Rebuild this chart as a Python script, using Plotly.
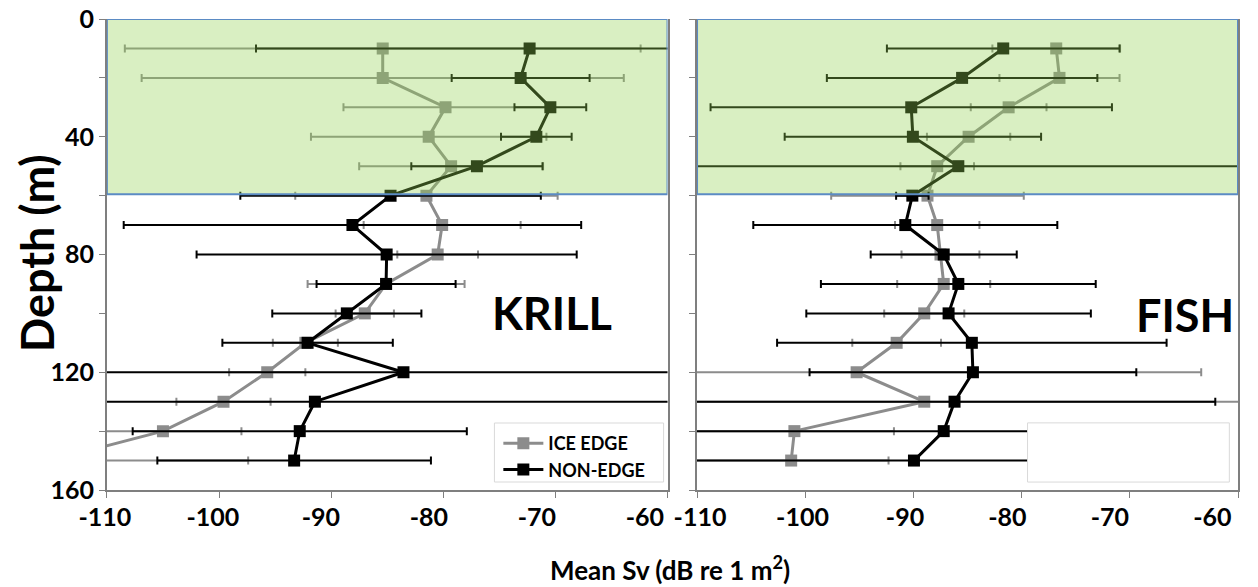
import plotly.graph_objects as go

depths = [10, 20, 30, 40, 50, 60, 70, 80, 90, 100, 110, 120, 130, 140, 150]

krill_ice = [-85.4, -85.4, -79.8, -81.3, -79.3, -81.5, -80.1, -80.5, -85.1, -87.0, -92.3, -95.7, -99.6, -105.0, -115.1]
krill_ice_err = [23.0, 21.5, 9.1, 10.5, 8.2, 11.7, 7.0, 3.6, 7.0, 2.6, 2.9, 3.4, 4.2, 7.0, 17.7]
krill_non = [-72.3, -73.1, -70.45, -71.7, -77.0, -84.7, -88.1, -85.05, -85.1, -88.6, -92.1, -83.55, -91.45, -92.8, -93.3]
krill_non_err = [24.4, 6.15, 3.2, 3.15, 5.85, 13.4, 20.4, 16.95, 6.2, 6.65, 7.6, 40.0, 40.0, 14.9, 12.2]

fish_ice = [-76.8, -76.5, -81.2, -84.9, -87.8, -88.7, -87.8, -87.5, -87.2, -89.0, -91.55, -95.25, -89.0, -101.0, -101.3]
fish_ice_err = [5.9, 5.55, 3.5, 3.85, 3.4, 8.9, 3.9, 3.6, 4.3, 3.7, 4.1, 31.85, 35.0, 9.2, 9.0]
fish_non = [-81.7, -85.5, -90.2, -90.05, -85.85, -90.1, -90.75, -87.2, -85.85, -86.75, -84.6, -84.5, -86.2, -87.2, -89.95]
fish_non_err = [10.75, 12.5, 18.55, 11.85, 40.0, 1.5, 14.05, 6.75, 12.7, 13.15, 18.0, 15.1, 24.1, 25.0, 25.0]

x_ticks = [-110, -100, -90, -80, -70, -60]
x_tick_text = ["-110", "-100", "-90", "-80", "-70", "-60"]
y_ticks = [0, 40, 80, 120, 160]
series_names = ["ICE EDGE", "NON-EDGE"]
panel_labels = ["KRILL", "FISH"]

GRAY = "#8c8c8c"
BLACK = "#000000"
AXIS = "#7f7f7f"
FONT = "Lato"

# page geometry (body margin removed, figure fills the window)
W_FIG, H_FIG = 1258, 587
PLOT_L = 100.0          # x of plot-area left edge
PLOT_W = 1157.0         # plot-area width
PLOT_T = 19.0
PLOT_B = 490.0          # y of plot-area bottom
PLOT_H = PLOT_B - PLOT_T


def px(xp):
    return (xp - PLOT_L) / PLOT_W


def py(yp):
    return (PLOT_B - yp) / PLOT_H


fig = go.Figure()


def add_series(x, err, color, name, xa, ya, show):
    fig.add_trace(go.Scatter(
        x=x, y=depths, mode="lines+markers", name=name,
        xaxis=xa, yaxis=ya, showlegend=show,
        line=dict(color=color, width=3),
        marker=dict(symbol="square", size=12, color=color),
        error_x=dict(type="data", array=err, symmetric=True, color=color,
                     thickness=2, width=4),
    ))


add_series(krill_ice, krill_ice_err, GRAY, series_names[0], "x", "y", True)
add_series(krill_non, krill_non_err, BLACK, series_names[1], "x", "y", True)
add_series(fish_ice, fish_ice_err, GRAY, series_names[0], "x2", "y2", False)
add_series(fish_non, fish_non_err, BLACK, series_names[1], "x2", "y2", False)

# empty traces that only register the tick-label axes
for xa, ya in [("x3", "y"), ("x4", "y2")]:
    fig.add_trace(go.Scatter(x=[], y=[], xaxis=xa, yaxis=ya, showlegend=False,
                             hoverinfo="skip", mode="markers"))

tick_font = dict(family=FONT, size=25, color="#000000", weight="bold")

xaxis_main = dict(
    range=[-110, -60], tickvals=x_ticks, ticks="outside", ticklen=6,
    tickcolor=AXIS, showline=True, linecolor=AXIS, linewidth=1.5,
    showgrid=False, zeroline=False, showticklabels=False,
)
xaxis_labels = dict(
    range=[-110, -60], tickvals=x_ticks, ticktext=x_tick_text,
    ticks="outside", ticklen=5, tickcolor="rgba(0,0,0,0)",
    showline=False, showgrid=False, zeroline=False, tickfont=tick_font,
)
yaxis_common = dict(
    range=[160, 0], tickvals=y_ticks, ticks="outside", ticklen=6,
    tickcolor=AXIS, showline=True, linecolor=AXIS, linewidth=1.5,
    mirror=True, showgrid=False, zeroline=False,
    minor=dict(dtick=20, ticks="outside", ticklen=6, tickcolor=AXIS),
    tickfont=tick_font,
)

fig.update_layout(
    width=W_FIG, height=H_FIG,
    margin=dict(l=PLOT_L, r=W_FIG - PLOT_L - PLOT_W, t=PLOT_T, b=H_FIG - PLOT_B),
    paper_bgcolor="white", plot_bgcolor="rgba(0,0,0,0)",
    xaxis=dict(domain=[px(107), px(677)], anchor="y", **xaxis_main),
    xaxis2=dict(domain=[px(707), 1.0], anchor="y2", **xaxis_main),
    xaxis3=dict(domain=[px(105), px(654)], anchor="y", **xaxis_labels),
    xaxis4=dict(domain=[px(710), px(1231)], anchor="y2", **xaxis_labels),
    yaxis=dict(domain=[0, 1], anchor="x", **yaxis_common),
    yaxis2=dict(domain=[0, 1], anchor="x2", showticklabels=False, **yaxis_common),
    legend=dict(
        x=px(505), y=py(425), xanchor="left", yanchor="top",
        bgcolor="rgba(0,0,0,0)", borderwidth=0,
        font=dict(family=FONT, size=18, color="#000000", weight="bold"),
        itemwidth=40, tracegroupgap=0,
    ),
    showlegend=True,
)

# green surface-layer boxes (semi-transparent, above traces)
for xr, yr in [("x", "y"), ("x2", "y2")]:
    fig.add_shape(type="rect", xref=xr, yref=yr, x0=-110, x1=-60, y0=0, y1=59.5,
                  fillcolor="rgba(146,208,80,0.35)",
                  line=dict(color="#5b8bc4", width=2), layer="above")

# legend frame in the krill panel
fig.add_shape(type="rect", xref="paper", yref="paper",
              x0=px(501), x1=px(673), y0=py(482), y1=py(423),
              fillcolor="white", line=dict(color="#d9d9d9", width=1), layer="above")

# empty white box in the fish panel
fig.add_shape(type="rect", xref="x2", yref="y2", x0=-79.45, x1=-60.8, y0=137.2, y1=157.3,
              fillcolor="white", line=dict(color="#d9d9d9", width=1), layer="above")

fig.add_annotation(x=-70.3, y=100, xref="x", yref="y", text=panel_labels[0], showarrow=False,
                   font=dict(family=FONT, size=45, color="#000000", weight="bold"))
fig.add_annotation(x=-64.9, y=100.5, xref="x2", yref="y2", text=panel_labels[1], showarrow=False,
                   font=dict(family=FONT, size=45, color="#000000", weight="bold"))

fig.add_annotation(x=px(36), y=py(253), xref="paper", yref="paper", text="Depth (m)",
                   textangle=-90, showarrow=False, xanchor="center", yanchor="middle",
                   font=dict(family=FONT, size=45, color="#000000", weight="bold"))
fig.add_annotation(x=px(680), y=py(568), xref="paper", yref="paper",
                   text="Mean Sv (dB re 1 m<sup>2</sup>)", showarrow=False,
                   xanchor="center", yanchor="middle",
                   font=dict(family=FONT, size=26, color="#000000", weight="bold"))

fig.write_html(
    "out.html",
    config={"displayModeBar": False},
    post_script="document.body.style.margin='0';document.body.style.overflow='hidden';",
)
